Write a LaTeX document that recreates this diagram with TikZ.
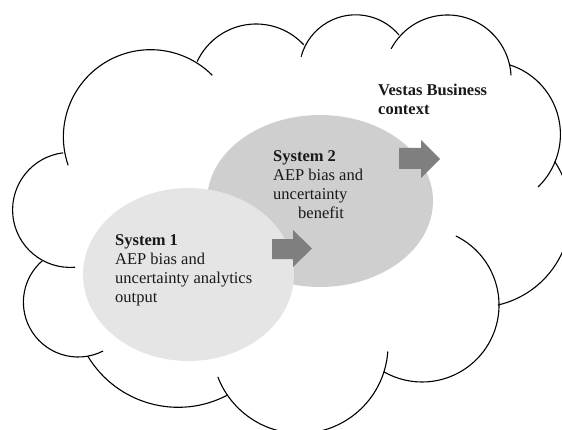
\documentclass[tikz,border=0pt]{standalone}
\usepackage{fontspec}
\setmainfont{Liberation Serif}
\usetikzlibrary{shapes.geometric}
\definecolor{lightell}{HTML}{E5E5E5}
\definecolor{darkell}{HTML}{D0CFD0}
\definecolor{arrowgray}{HTML}{7F7F7F}
\tikzset{
  cloudline/.style={line width=1.1pt, draw=black},
  blob/.style={ellipse, draw=none, inner sep=0pt},
  blockarrow/.style={fill=arrowgray, draw=none},
  label/.style={anchor=base west, inner sep=0pt, align=left,
     font=\fontsize{16.5}{19}\selectfont, text=black!90}
}
\begin{document}
\begin{tikzpicture}[x=1pt,y=1pt]
\useasboundingbox (0,0) rectangle (562,429);
% ellipses
\node[blob, fill=darkell, minimum width=226pt, minimum height=172pt] (sys2) at (320,228) {};
\node[blob, fill=lightell, minimum width=211pt, minimum height=173pt] (sys1) at (188.5,154.5) {};
% block arrows
\fill[blockarrow] (272,190) -- (293,190) -- (293,199) -- (312,180.5) -- (293,162) -- (293,170) -- (272,170) -- cycle;
\fill[blockarrow] (399,281) -- (421,281) -- (421,289) -- (440,270) -- (421,251) -- (421,260) -- (399,260) -- cycle;
% texts (anchor = baseline of the last line)
\node[label] (t1) at (115,127) {\textbf{System 1}\\AEP bias and\\uncertainty analytics\\output};
\node[label] (t2) at (273,211) {\textbf{System 2}\\AEP bias and\\uncertainty\\\hspace*{25pt}benefit};
\node[label] (t3) at (378,314) {\textbf{Vestas Business}\\\textbf{context}};
% cloud
\begin{scope}
\clip (0,0) rectangle (562,429);
\draw[cloudline] (150.6,{429-136.9}) ++(-161:87.2) arc[start angle=-161, end angle=-315, radius=87.2pt];
\draw[cloudline] (256.1,{429-89.0}) ++(-205:65) arc[start angle=-205, end angle=-317, radius=65pt];
\draw[cloudline] (355.7,{429-71.3}) ++(-195:56.5) arc[start angle=-195, end angle=-320, radius=56.5pt];
\draw[cloudline] (447.4,{429-78.7}) ++(-208:63.7) arc[start angle=-208, end angle=-357, radius=63.7pt];
\draw[cloudline] (487.4,{429-134.4}) ++(-288:73) arc[start angle=-288, end angle=-406, radius=73pt];
\draw[cloudline] (477,{429-213.8}) ++(-326:93.6) arc[start angle=-326, end angle=-437, radius=93.6pt];
\draw[cloudline] (422.1,{429-305.1}) ++(-296:76.9) arc[start angle=-296, end angle=-480, radius=76.9pt];
\draw[cloudline] (300,{429-345.4}) ++(-4:88) arc[start angle=-4, end angle=-159, radius=88pt];
\draw[cloudline] (178.2,{429-301.8}) ++(-62:105.5) arc[start angle=-62, end angle=-149, radius=105.5pt];
\draw[cloudline] (78.2,{429-302.2}) ++(-63:54.8) arc[start angle=-63, end angle=-229, radius=54.8pt];
\draw[cloudline] (70.1,{429-209.9}) ++(-85:57.5) arc[start angle=-85, end angle=-263, radius=57.5pt];
\end{scope}
\end{tikzpicture}
\end{document}
